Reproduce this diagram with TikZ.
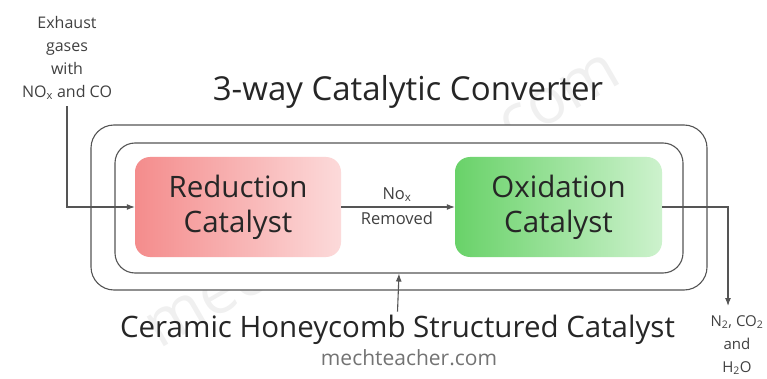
\documentclass[tikz,border=0pt]{standalone}
\usepackage{fontspec}
\setmainfont{Open Sans}
\usetikzlibrary{arrows.meta}
\definecolor{convcolor0001}{RGB}{85,85,85}
\definecolor{convcolor0002}{RGB}{244,140,140}
\definecolor{convcolor0003}{RGB}{252,218,218}
\definecolor{convcolor0004}{RGB}{105,210,105}
\definecolor{convcolor0005}{RGB}{205,242,205}
\definecolor{convcolor0006}{RGB}{115,115,115}
\begin{document}
\begin{tikzpicture}[yscale=-1
,cstyle0/.style={draw=convcolor0001,line width=1.1pt,fill=white,inner sep=0pt}
,cstyle1/.style={rounded corners=15pt,inner sep=0pt,align=center,font=\fontsize{29.5}{35}\selectfont,text=black!85}
,cstyle2/.style={color=convcolor0001,line width=1.1pt,-{Latex[length=8pt,width=6pt]}}
,cstyle3/.style={align=center,font=\fontsize{16}{23}\selectfont,text=black!75,inner sep=0pt}
]
\useasboundingbox (0pt,0pt) rectangle (767pt,379pt);
\node[rotate=30,text=black!6,font=\fontsize{64}{64}\selectfont] (wmark) at (380pt,195pt) {mechteacher.com};
\node[cstyle0,rounded corners=23pt,minimum width=616pt,minimum height=165pt] (outer) at (399pt,207.5pt) {};
\node[cstyle0,rounded corners=20pt,minimum width=568pt,minimum height=130pt] (inner) at (399pt,208pt) {};
\node[cstyle1,left color=convcolor0002,right color=convcolor0003,minimum width=206pt,minimum height=100pt] (red) at (238pt,207pt) {Reduction\\Catalyst};
\node[cstyle1,left color=convcolor0004,right color=convcolor0005,minimum width=207pt,minimum height=100pt] (green) at (558.5pt,207pt) {Oxidation\\Catalyst};
\node[font=\fontsize{33}{38}\selectfont,text=black!85] (title) at (408pt,92pt) {3-way Catalytic Converter};
\node[cstyle3] (inp) at (67pt,58pt) {Exhaust\\gases\\with\\NO\textsubscript{x} and CO};
\node[cstyle3,font=\fontsize{15}{23}\selectfont] (outp) at (737pt,345pt) {N\textsubscript{2}, CO\textsubscript{2}\\and\\H\textsubscript{2}O};
\node[cstyle3,font=\fontsize{16.5}{25}\selectfont] (mid) at (397pt,206pt) {No\textsubscript{x}\\Removed};
\node[font=\fontsize{29.5}{34}\selectfont,text=black!85] (ceramic) at (397.5pt,330pt) {Ceramic Honeycomb Structured Catalyst};
\node[font=\fontsize{21}{25}\selectfont,text=convcolor0006] (site) at (409pt,358pt) {mechteacher.com};
\coordinate (outtip) at (728pt,306pt);
\draw[cstyle2] (inp.south) ++(0,6pt) |- (red.west);
\draw[cstyle2] (red.east) -- (green.west);
\draw[cstyle2] (green.east) -| (outtip);
\draw[cstyle2] (ceramic.north) -- (inner.south);
\end{tikzpicture}
\end{document}
